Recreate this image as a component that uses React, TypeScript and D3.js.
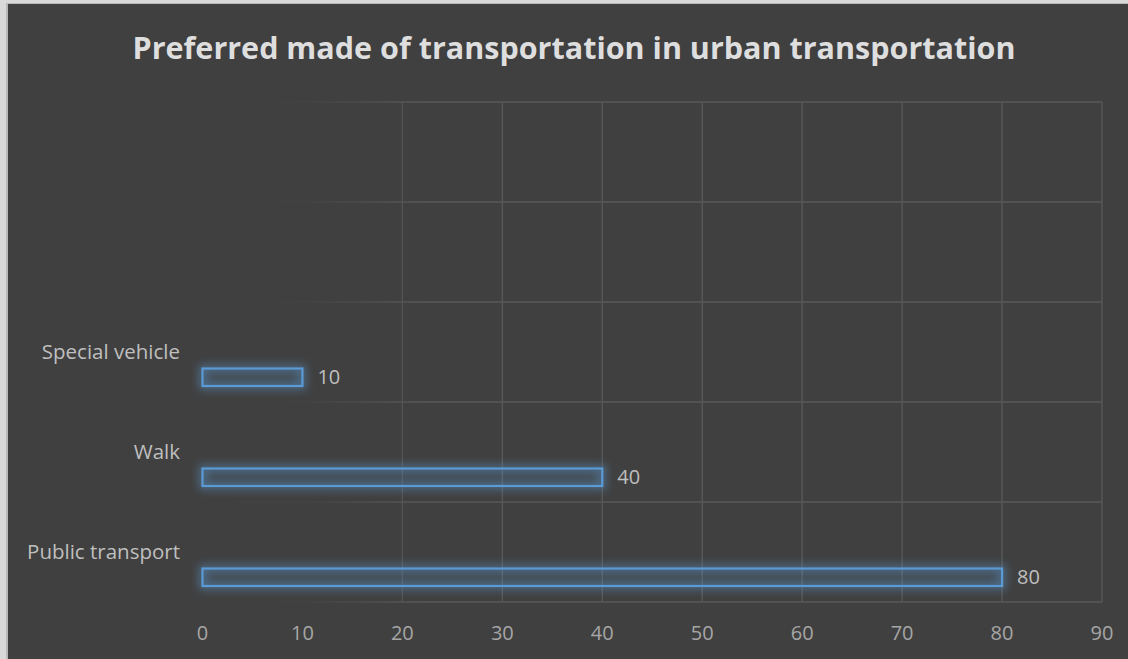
import React from "react";
import * as d3 from "d3";

// Chart data
const categories = ["Public transport", "Walk", "Special vehicle"];
const values = [80, 40, 10];
// Two unused category slots sit above the three bars on the value axis
const spareSlots = ["spare-1", "spare-2"];
const xTicks = [0, 10, 20, 30, 40, 50, 60, 70, 80, 90];
const title = "Preferred made of transportation in urban transportation";

const W = 1128;
const H = 659;
const FONT = "'Open Sans', 'Noto Sans', sans-serif";

export default function App() {
  const plot = { left: 202.5, right: 1102, top: 102, bottom: 602 };

  const x = d3.scaleLinear().domain([0, 90]).range([plot.left, plot.right]);

  // Slots from top to bottom
  const slots = [...spareSlots, ...categories.slice().reverse()];
  const y = d3
    .scaleBand<string>()
    .domain(slots)
    .range([plot.top, plot.bottom])
    .padding(0);
  const bw = y.bandwidth();

  const hLines = slots.map((s) => y(s) as number).concat([plot.bottom]);

  return (
    <svg
      width={W}
      height={H}
      style={{ position: "absolute", left: 0, top: 0, display: "block" }}
    >
      <defs>
        <linearGradient
          id="gridFade"
          gradientUnits="userSpaceOnUse"
          x1={plot.left}
          y1={0}
          x2={plot.right}
          y2={0}
        >
          <stop offset="0" stopColor="#585858" stopOpacity={0} />
          <stop offset="0.12" stopColor="#585858" stopOpacity={0.1} />
          <stop offset="0.24" stopColor="#585858" stopOpacity={1} />
          <stop offset="1" stopColor="#585858" stopOpacity={1} />
        </linearGradient>
        <filter id="glow" x="-20%" y="-100%" width="140%" height="300%">
          <feGaussianBlur stdDeviation="4" />
        </filter>
      </defs>

      {/* frame */}
      <rect x={0} y={0} width={W} height={H} fill="#d9d9d9" />
      <rect x={6} y={3} width={W - 6} height={H - 3} fill="#b8b8b8" />
      <rect x={8} y={4} width={W - 8} height={H - 4} fill="#404040" />

      {/* title */}
      <text
        x={574}
        y={59}
        textAnchor="middle"
        fontFamily={FONT}
        fontWeight={700}
        fontSize={30.5}
        fill="#dedede"
        textLength={883}
        lengthAdjust="spacingAndGlyphs"
      >
        {title}
      </text>

      {/* gridlines */}
      <g stroke="url(#gridFade)" strokeWidth={1.4} fill="none">
        {hLines.map((yy, i) => (
          <line key={"h" + i} x1={plot.left} x2={plot.right} y1={yy} y2={yy} />
        ))}
      </g>
      <g>
        {xTicks.map((t) => {
          const xx = x(t);
          const op = xx < 320 ? 0 : xx < 420 ? 0.8 : 1;
          return (
            <line
              key={"v" + t}
              x1={xx}
              x2={xx}
              y1={plot.top}
              y2={plot.bottom}
              stroke="#585858"
              strokeOpacity={op}
              strokeWidth={1.4}
            />
          );
        })}
      </g>

      {/* bars */}
      {categories.map((c, i) => {
        const y0 = (y(c) as number) + bw * 0.665;
        const h = bw * 0.175;
        const x0 = x(0);
        const x1 = x(values[i]);
        return (
          <g key={c}>
            <rect
              x={x0}
              y={y0}
              width={x1 - x0}
              height={h}
              fill="none"
              stroke="#5b9bd5"
              strokeWidth={7}
              strokeOpacity={0.5}
              filter="url(#glow)"
            />
            <rect
              x={x0}
              y={y0}
              width={x1 - x0}
              height={h}
              fill="#5b9bd5"
              fillOpacity={0.1}
              stroke="#5b9bd5"
              strokeWidth={2.2}
            />
            <text
              x={x1 + 15}
              y={y0 + h / 2}
              dy="0.36em"
              fontFamily={FONT}
              fontSize={20}
              fill="#bfbfbf"
            >
              {values[i]}
            </text>
          </g>
        );
      })}

      {/* category labels */}
      {categories.map((c) => (
        <text
          key={"lbl" + c}
          x={180}
          y={(y(c) as number) + bw / 2}
          dy="0.36em"
          textAnchor="end"
          fontFamily={FONT}
          fontSize={20.5}
          fill="#bfbfbf"
        >
          {c}
        </text>
      ))}

      {/* value axis labels */}
      {xTicks.map((t) => (
        <text
          key={"t" + t}
          x={x(t)}
          y={633}
          dy="0.36em"
          textAnchor="middle"
          fontFamily={FONT}
          fontSize={20}
          fill="#a6a6a6"
        >
          {t}
        </text>
      ))}
    </svg>
  );
}
